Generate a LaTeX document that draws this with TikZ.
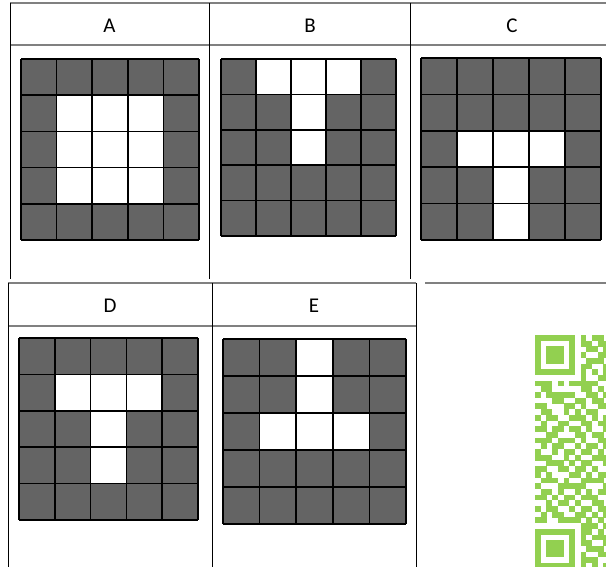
\documentclass[tikz,border=0pt]{standalone}
\usepackage{fontspec}
\setmainfont{Carlito}
\definecolor{cellgray}{RGB}{100,100,100}
\definecolor{qrgreen}{RGB}{146,208,80}
\tikzset{
  rowline/.style={draw=gray,line width=1.4pt},
  colline/.style={draw=black,line width=0.9pt},
  gridline/.style={draw=black,line width=1.5pt},
  hdr/.style={font=\fontsize{21}{21}\selectfont,inner sep=0pt}
}
\begin{document}
\begin{tikzpicture}[x=1pt,y=-1pt]
\useasboundingbox (0,0) rectangle (606,567);
% table frame, top row
\draw[rowline] (10,3)--(606,3); \draw[rowline] (10,45)--(606,45);
\foreach \x in {10,209,410} \draw[colline] (\x,3)--(\x,279);
% table frame, bottom row
\draw[rowline] (8,283)--(416,283); \draw[rowline] (8,326)--(416,326);
\draw[rowline] (425,283)--(606,283);
\foreach \x in {8,212,416} \draw[colline] (\x,283)--(\x,567);
% headers
\node[hdr] (labA) at (109.5,25.5) {A};
\node[hdr] (labB) at (310,25.5) {B};
\node[hdr] (labC) at (512,25.5) {C};
\node[hdr] (labD) at (110,306) {D};
\node[hdr] (labE) at (314,306) {E};
% 5x5 pictures: left/top/width/height/white cells
\foreach \gx/\gy/\gw/\gh/\whites in {
  21/59/178/181/{1/1,2/1,3/1,1/2,2/2,3/2,1/3,2/3,3/3},
  221/59/175/177/{1/0,2/0,3/0,2/1,2/2},
  421/58/180/182/{1/2,2/2,3/2,2/3,2/4},
  19/338/179/182/{1/1,2/1,3/1,2/2,2/3},
  223/339/183/185/{2/0,2/1,1/2,2/2,3/2}} {
  \pgfmathsetmacro\cw{\gw/5} \pgfmathsetmacro\ch{\gh/5}
  \begin{scope}[shift={(\gx,\gy)},x=\cw pt,y=-\ch pt]
    \fill[cellgray] (0,0) rectangle (5,5);
    \foreach \c/\r in \whites \fill[white] (\c,\r) rectangle ++(1,1);
    \foreach \k in {0,...,5} {\draw[gridline] (\k,0)--(\k,5); \draw[gridline] (0,\k)--(5,\k);}
  \end{scope}
}
% QR code, cut off at the right edge
\begin{scope}
\clip (0,0) rectangle (606,567);
\foreach \bits [count=\r from 0] in {
 {1,1,1,1,1,1,1,0,1,0,1,1,0},{1,0,0,0,0,0,1,0,1,1,0,1,1},{1,0,1,1,1,0,1,0,0,1,1,0,1},
 {1,0,1,1,1,0,1,0,1,0,0,1,1},{1,0,1,1,1,0,1,0,0,1,1,1,0},{1,0,0,0,0,0,1,0,1,1,0,0,1},
 {1,1,1,1,1,1,1,0,1,0,1,0,1},{0,0,0,0,0,0,0,0,1,0,0,1,1},{1,1,1,0,1,0,1,1,1,1,1,0,0},
 {0,1,1,0,0,0,0,0,1,1,0,1,0},{1,0,1,1,1,1,1,0,0,1,1,0,1},{0,0,0,1,1,0,0,1,1,0,1,1,0},
 {1,1,0,0,0,1,1,0,1,0,0,1,1},{0,1,1,0,0,1,0,1,0,1,1,0,0},{1,0,1,1,0,0,1,1,1,0,1,0,1},
 {0,1,0,0,1,1,0,0,1,1,0,1,1},{1,1,0,1,1,0,1,1,0,1,0,0,1},{0,0,1,1,0,0,0,1,1,0,1,1,0},
 {1,1,1,0,1,1,1,0,1,0,0,1,1},{0,1,0,1,1,0,0,1,0,1,1,0,1},{1,0,0,1,0,1,1,0,1,1,0,1,0},
 {1,1,1,0,0,1,0,1,0,0,1,1,1},{0,0,1,1,1,0,1,0,1,1,0,0,1},{1,1,0,0,1,1,0,1,1,0,1,0,0},
 {1,0,1,0,0,0,1,1,0,1,0,1,1},{0,1,1,1,0,1,0,0,1,1,1,1,0},{1,0,0,0,1,1,1,1,1,0,0,0,1},
 {0,1,1,0,1,0,0,1,0,1,0,1,1},{1,1,0,1,0,1,1,0,1,1,1,0,0},{0,0,1,0,1,1,0,1,0,0,1,1,0},
 {1,0,1,1,0,0,1,0,1,1,0,1,1},{0,1,0,1,1,0,0,1,1,0,1,0,1},{1,1,0,0,1,1,1,1,0,1,0,1,0},
 {0,0,0,0,0,0,0,0,1,1,1,0,1},{1,1,1,1,1,1,1,0,1,1,0,1,0},{1,0,0,0,0,0,1,0,1,0,1,1,1},
 {1,0,1,1,1,0,1,0,1,1,0,0,1},{1,0,1,1,1,0,1,0,0,1,1,1,0},{1,0,1,1,1,0,1,0,1,0,0,1,1},
 {1,0,0,0,0,0,1,0,1,1,1,0,0},{1,1,1,1,1,1,1,0,1,0,1,0,1}} {
  \foreach \b [count=\c from 0] in \bits {\ifnum\b=1 \fill[qrgreen] (535+\c*5.7,335+\r*5.7) rectangle ++(5.8,5.8);\fi}
}
\end{scope}
\end{tikzpicture}
\end{document}
